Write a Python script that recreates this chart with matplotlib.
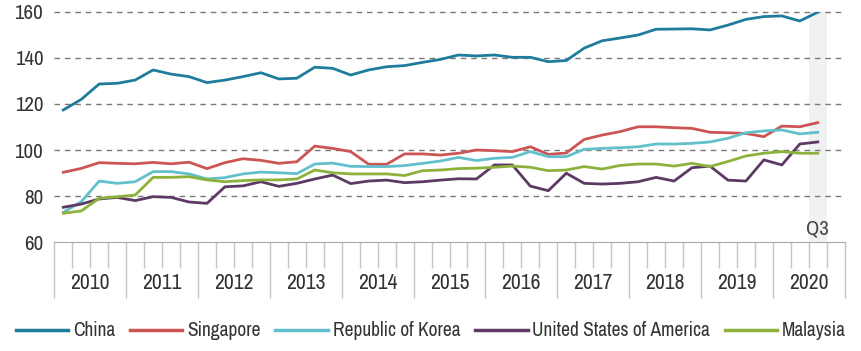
import matplotlib
matplotlib.use("Agg")
import matplotlib.pyplot as plt
from matplotlib import font_manager
import numpy as np

fonts = font_manager.fontManager.ttflist
cand = [f for f in fonts if ("Narrow" in f.name or "Condensed" in f.name or
                              (isinstance(f.stretch, str) and "condensed" in f.stretch) or
                              (isinstance(f.stretch, int) and f.stretch < 500))]
cand_names = sorted({(f.name, str(f.stretch)) for f in cand})
fam = 'DejaVu Sans'
stretch = 'normal'
for nm, st in cand_names:
    if "Liberation" in nm:
        fam = nm
        stretch = 'normal' if "Narrow" in nm else 'condensed'
        break
else:
    if cand_names:
        fam = cand_names[0][0]
        stretch = 'condensed'
plt.rcParams['font.family'] = [fam, 'DejaVu Sans']
plt.rcParams['font.stretch'] = stretch

years = ["2010", "2011", "2012", "2013", "2014", "2015", "2016", "2017", "2018", "2019", "2020"]
yticks = [60, 80, 100, 120, 140, 160]

china = [117.4, 122.0, 128.7, 129.0, 130.4, 134.8, 133.0, 131.9, 129.3, 130.4, 131.9, 133.6,
         130.9, 131.2, 136.0, 135.5, 132.6, 134.8, 136.2, 136.7, 138.1, 139.4, 141.3, 140.9,
         141.3, 140.3, 140.3, 138.4, 138.9, 144.3, 147.5, 148.7, 150.0, 152.5, 152.6, 152.7,
         152.2, 154.3, 156.8, 158.0, 158.3, 156.1, 159.9]
singapore = [90.3, 92.0, 94.5, 94.2, 94.0, 94.6, 94.0, 94.7, 91.9, 94.5, 96.2, 95.5,
             94.2, 94.9, 101.7, 100.7, 99.3, 93.8, 93.8, 98.3, 98.3, 97.8, 98.6, 100.0,
             99.7, 99.3, 101.4, 98.1, 98.7, 104.6, 106.5, 108.0, 110.1, 110.1, 109.7, 109.4,
             107.7, 107.5, 107.2, 105.8, 110.4, 110.1, 111.9]
korea = [72.9, 77.5, 86.5, 85.5, 86.2, 90.6, 90.6, 89.6, 87.4, 88.0, 89.6, 90.4,
         90.1, 89.7, 93.9, 94.3, 92.9, 92.8, 92.8, 93.2, 94.2, 95.2, 96.8, 95.4,
         96.4, 96.8, 99.3, 97.1, 97.1, 100.3, 100.7, 101.0, 101.4, 102.6, 102.6, 102.9,
         103.5, 105.1, 107.5, 108.3, 108.7, 107.0, 107.7]
usa = [75.1, 76.5, 78.7, 79.4, 78.0, 79.7, 79.4, 77.4, 76.8, 84.0, 84.4, 86.2,
       84.2, 85.5, 87.4, 89.1, 85.4, 86.5, 86.9, 85.8, 86.2, 86.9, 87.5, 87.4,
       93.5, 93.5, 84.3, 82.3, 89.9, 85.5, 85.2, 85.5, 86.2, 88.1, 86.5, 92.3,
       93.0, 86.9, 86.5, 95.7, 93.5, 102.6, 103.5]
malaysia = [72.5, 73.5, 79.0, 79.7, 80.4, 88.1, 88.1, 88.4, 87.0, 86.2, 86.7, 87.0,
            87.0, 87.4, 91.3, 90.1, 89.6, 89.6, 89.6, 88.9, 91.0, 91.3, 91.9, 92.1,
            92.5, 93.0, 92.5, 91.0, 91.3, 92.8, 91.7, 93.3, 93.9, 93.9, 93.0, 94.2,
            92.8, 95.0, 97.4, 98.6, 99.3, 98.6, 98.6]

series = [("China", china, "#1f7c9c"),
          ("Singapore", singapore, "#cc5553"),
          ("Republic of Korea", korea, "#62c0cd"),
          ("United States of America", usa, "#5c3a64"),
          ("Malaysia", malaysia, "#8cb23b")]

fig = plt.figure(figsize=(8.62, 3.51), dpi=100)
ax = fig.add_axes([54.3/862, 1-242/351, (844.7-54.3)/862, 230/351])

n = len(china)
x = np.arange(n) + 0.5
ax.axvspan(n-1, n, color="#f0f2f2", zorder=0, lw=0)

for name, vals, col in series:
    ax.plot(x, vals, color=col, lw=2.0, label=name, solid_joinstyle="round", zorder=3)

ax.set_xlim(0, 44)
ax.set_ylim(60, 160)
ax.set_yticks(yticks)
ax.set_yticklabels([str(v) for v in yticks], fontsize=15, color="#333333")
ax.tick_params(axis='y', length=0, pad=8)
for v in yticks[1:]:
    ax.axhline(v, color="#7a7a7a", lw=1.0, ls=(0, (4, 3.5)), zorder=1, clip_on=False)

ax.set_xticks(np.arange(0, 45, 4))
ax.set_xticklabels([])
ax.set_xticks([q for q in range(44) if q % 4 != 0], minor=True)
ax.tick_params(axis='x', which='major', length=40, color="#c4c4c4", width=1.0, direction='out')
ax.tick_params(axis='x', which='minor', length=19, color="#c4c4c4", width=1.0, direction='out')
for i, yr in enumerate(years):
    ax.text(4*i + 2, -0.178, yr, transform=ax.get_xaxis_transform(), ha='center', va='center',
            fontsize=15.5, color="#333333")
ax.text(n - 0.5, 65.5, "Q3", ha='center', va='center', fontsize=15, color="#444444")

for s in ["top", "right", "left"]:
    ax.spines[s].set_visible(False)
ax.spines["bottom"].set_color("#a8a8a8")
ax.patch.set_alpha(0)

fsz = 14 if (stretch != 'normal' or "Narrow" in fam) else 10.5
leg = fig.legend(loc='center', bbox_to_anchor=(0.5, 1-331/351), ncol=5, frameon=False,
                 handlelength=2.7, handletextpad=0.25, columnspacing=0.75, fontsize=fsz)
for line in leg.get_lines():
    line.set_linewidth(2.5)
for t in leg.get_texts():
    t.set_color("#333333")

fig.savefig("out.png", dpi=100)
